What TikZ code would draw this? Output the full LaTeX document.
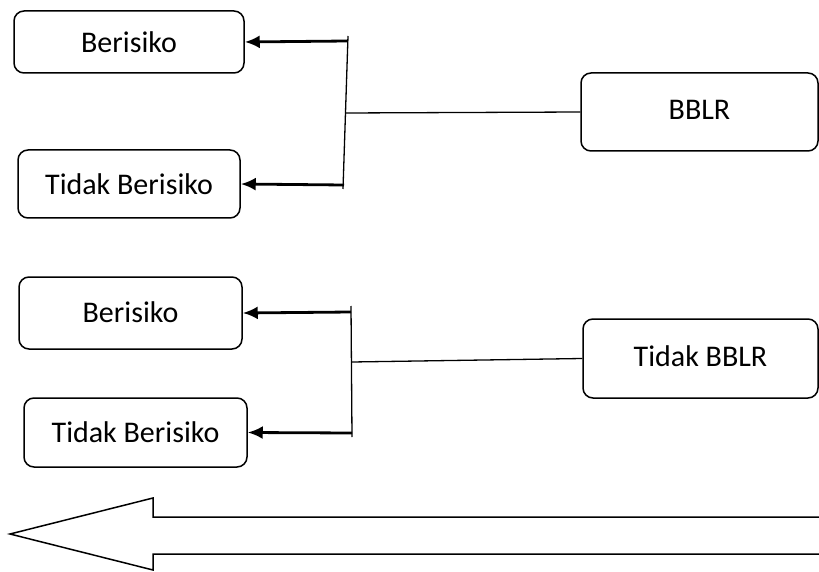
\documentclass[tikz,border=0pt]{standalone}
\usepackage{fontspec}
\setmainfont{Carlito}
\usetikzlibrary{arrows.meta,positioning}

\begin{document}
\begin{tikzpicture}[x=1pt, y=-1pt,
    kotak/.style={rectangle, draw, line width=1.5pt, rounded corners=10pt, align=center, inner sep=0pt, font=\fontsize{30}{36}\selectfont},
    ar/.style={line width=2.8pt, -{Latex[length=15pt,width=13pt]}},
    garis/.style={line width=1.3pt}]
    \useasboundingbox (0,0) rectangle (819,572);
    % kelompok BBLR
    \node [kotak, minimum width=230pt, minimum height=62pt] (ber1) at (129,42) {Berisiko};
    \node [kotak, minimum width=222pt, minimum height=68pt] (tber1) at (129,184) {Tidak Berisiko};
    \node [kotak, minimum width=237pt, minimum height=78pt] (bblr) at (699.5,112) {\raisebox{5pt}{BBLR}};
    \coordinate (k1a) at (348,36);
    \coordinate (k1b) at (343,189);
    \coordinate (k1c) at (345,113);
    \coordinate (p1a) at (347,41);
    \coordinate (p1b) at (344,185);
    \draw [garis] (k1a) -- (k1b);
    \draw [garis] (k1c) -- (bblr.west);
    \draw [ar] (p1a) -- (ber1.east);
    \draw [ar] (p1b) -- (tber1.east);
    % kelompok Tidak BBLR
    \node [kotak, minimum width=223pt, minimum height=72pt] (ber2) at (130.5,313) {\raisebox{2pt}{Berisiko}};
    \node [kotak, minimum width=223pt, minimum height=69pt] (tber2) at (135.5,432.5) {Tidak Berisiko};
    \node [kotak, minimum width=235pt, minimum height=79pt] (tbblr) at (700.5,358.5) {\raisebox{5pt}{Tidak BBLR}};
    \coordinate (k2a) at (351,306);
    \coordinate (k2b) at (352,437);
    \coordinate (k2c) at (352,362);
    \coordinate (p2a) at (351,312);
    \coordinate (p2b) at (352,433);
    \draw [garis] (k2a) -- (k2b);
    \draw [garis] (k2c) -- (tbblr.west);
    \draw [ar] (p2a) -- (ber2.east);
    \draw [ar] (p2b) -- (tber2.east);
    % panah besar
    \draw [line width=1.5pt, line join=miter] (819,517) -- (153,517) -- (153,498) -- (10,534) -- (153,570) -- (153,554) -- (819,554);
\end{tikzpicture}
\end{document}
